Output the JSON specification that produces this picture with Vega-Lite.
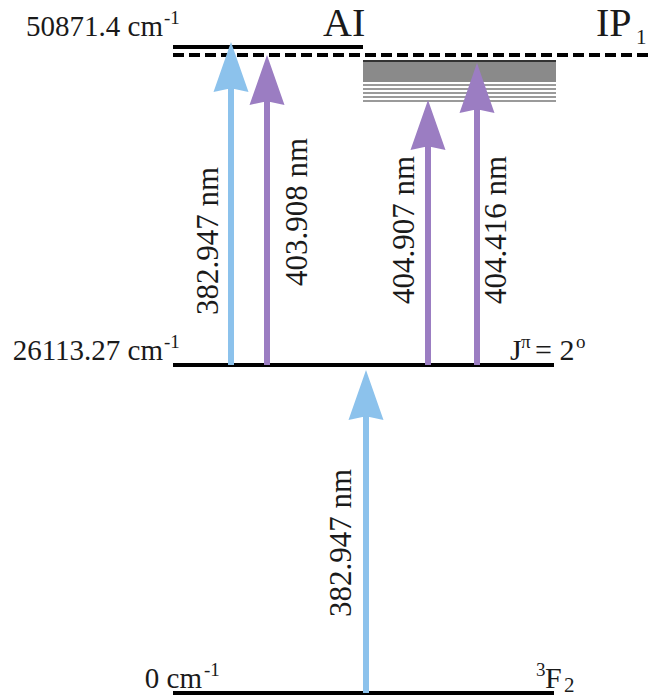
{
  "$schema": "https://vega.github.io/schema/vega-lite/v6.json",
  "width": 654,
  "height": 696,
  "autosize": "none",
  "padding": 0,
  "background": "white",
  "config": {"view": {"stroke": null}, "text": {"font": "Liberation Serif", "color": "#1a1a1a"}},
  "datasets": {
    "levels": [
      {"level": "AI", "x1": 173, "x2": 363, "E": 50871.4},
      {"level": "J=2 odd", "x1": 173, "x2": 554, "E": 26113.27},
      {"level": "3F2", "x1": 173, "x2": 554, "E": 0}
    ],
    "ip": [{"level": "IP1", "x1": 173, "x2": 650, "E": 50248.6}],
    "band": [{"x1": 363, "x2": 556, "E1": 48146.6, "E2": 49859.4}],
    "bandlines": [
      {"E": 47913.0}, {"E": 47601.6}, {"E": 47290.2}, {"E": 46978.8}, {"E": 46667.3}
    ],
    "bandedge": [{"x1": 363, "x2": 556, "E": 49781.5}],
    "arrows": [
      {"label": "382.947 nm", "laser": "blue", "x": 231, "from": 26113.27, "shaftEnd": 47835.1, "tip": 51260.8},
      {"label": "403.908 nm", "laser": "violet", "x": 267, "from": 26113.27, "shaftEnd": 46823.0, "tip": 50248.6},
      {"label": "404.907 nm", "laser": "violet", "x": 428, "from": 26113.27, "shaftEnd": 43319.4, "tip": 46745.1},
      {"label": "404.416 nm", "laser": "violet", "x": 477, "from": 26113.27, "shaftEnd": 46200.1, "tip": 49625.8},
      {"label": "382.947 nm", "laser": "blue", "x": 366, "from": 0, "shaftEnd": 22212.3, "tip": 25715.3}
    ],
    "wavelengths": [
      {"text": "382.947 nm", "x": 209, "E": 35767.4},
      {"text": "403.908 nm", "x": 298, "E": 38025.2},
      {"text": "404.907 nm", "x": 405, "E": 36623.8},
      {"text": "404.416 nm", "x": 497, "E": 36623.8},
      {"text": "382.947 nm", "x": 342, "E": 11942.1}
    ],
    "energies": [
      {"text": "50871.4 cm", "x": 163, "E": 51727.9},
      {"text": "26113.27 cm", "x": 163, "E": 26502.5},
      {"text": "0 cm", "x": 202, "E": 398.1}
    ],
    "terms": [
      {"text": "J", "x": 510, "E": 26502.5},
      {"text": "= 2", "x": 535, "E": 26502.5},
      {"text": "F", "x": 545, "E": 398.1}
    ],
    "big": [
      {"text": "AI", "x": 323, "E": 51727.9},
      {"text": "IP", "x": 596, "E": 51727.9}
    ],
    "sups": [
      {"text": "-1", "x": 164, "E": 52662.2},
      {"text": "-1", "x": 164, "E": 27436.8},
      {"text": "-1", "x": 204, "E": 1353.4},
      {"text": "π", "x": 521, "E": 27436.8},
      {"text": "o", "x": 576, "E": 27436.8},
      {"text": "3", "x": 536, "E": 1353.4}
    ],
    "subs": [
      {"text": "1", "x": 636, "E": 51104.1},
      {"text": "2", "x": 564, "E": 79.6}
    ]
  },
  "layer": [
    {
      "data": {"name": "band"},
      "mark": {"type": "rect", "color": "#8a8a8a"},
      "encoding": {
        "x": {"field": "x1", "type": "quantitative", "scale": {"domain": [0, 654], "range": [0, 654], "nice": false, "zero": false}, "axis": null},
        "x2": {"field": "x2"},
        "y": {"field": "E1", "type": "quantitative", "scale": {"domain": [0, 26113.27, 50871.4], "range": [693, 365, 47], "nice": false, "zero": false}, "axis": null},
        "y2": {"field": "E2"}
      }
    },
    {
      "data": {"name": "bandlines"},
      "mark": {"type": "rule", "color": "#9a9a9a", "strokeWidth": 2},
      "encoding": {
        "x": {"datum": 363, "type": "quantitative"},
        "x2": {"datum": 556},
        "y": {"field": "E", "type": "quantitative"}
      }
    },
    {
      "data": {"name": "bandedge"},
      "mark": {"type": "rule", "color": "#333", "strokeWidth": 2},
      "encoding": {
        "x": {"field": "x1", "type": "quantitative"},
        "x2": {"field": "x2"},
        "y": {"field": "E", "type": "quantitative"}
      }
    },
    {
      "data": {"name": "levels"},
      "mark": {"type": "rule", "color": "black", "strokeWidth": 4},
      "encoding": {
        "x": {"field": "x1", "type": "quantitative"},
        "x2": {"field": "x2"},
        "y": {"field": "E", "type": "quantitative"}
      }
    },
    {
      "data": {"name": "ip"},
      "mark": {"type": "rule", "color": "black", "strokeWidth": 4, "strokeDash": [11, 5]},
      "encoding": {
        "x": {"field": "x1", "type": "quantitative"},
        "x2": {"field": "x2"},
        "y": {"field": "E", "type": "quantitative"}
      }
    },
    {
      "data": {"name": "arrows"},
      "mark": {"type": "rule", "strokeWidth": 6},
      "encoding": {
        "x": {"field": "x", "type": "quantitative"},
        "y": {"field": "from", "type": "quantitative"},
        "y2": {"field": "shaftEnd"},
        "color": {"field": "laser", "type": "nominal", "scale": {"domain": ["blue", "violet"], "range": ["#8cc2ec", "#9b7dc2"]}, "legend": null}
      }
    },
    {
      "data": {"name": "arrows"},
      "mark": {"type": "point", "filled": true, "opacity": 1, "size": 2500, "shape": "M0,0L0.7,2L0,1.85L-0.7,2Z"},
      "encoding": {
        "x": {"field": "x", "type": "quantitative"},
        "y": {"field": "tip", "type": "quantitative"},
        "color": {"field": "laser", "type": "nominal", "legend": null}
      }
    },
    {
      "data": {"name": "wavelengths"},
      "mark": {"type": "text", "font": "Liberation Serif", "angle": 270, "fontSize": 31, "align": "center", "baseline": "middle"},
      "encoding": {
        "x": {"field": "x", "type": "quantitative"},
        "y": {"field": "E", "type": "quantitative"},
        "text": {"field": "text"}
      }
    },
    {
      "data": {"name": "energies"},
      "mark": {"type": "text", "font": "Liberation Serif", "fontSize": 29, "align": "right", "baseline": "alphabetic"},
      "encoding": {
        "x": {"field": "x", "type": "quantitative"},
        "y": {"field": "E", "type": "quantitative"},
        "text": {"field": "text"}
      }
    },
    {
      "data": {"name": "terms"},
      "mark": {"type": "text", "font": "Liberation Serif", "fontSize": 30, "align": "left", "baseline": "alphabetic"},
      "encoding": {
        "x": {"field": "x", "type": "quantitative"},
        "y": {"field": "E", "type": "quantitative"},
        "text": {"field": "text"}
      }
    },
    {
      "data": {"name": "big"},
      "mark": {"type": "text", "font": "Liberation Serif", "fontSize": 40, "align": "left", "baseline": "alphabetic"},
      "encoding": {
        "x": {"field": "x", "type": "quantitative"},
        "y": {"field": "E", "type": "quantitative"},
        "text": {"field": "text"}
      }
    },
    {
      "data": {"name": "sups"},
      "mark": {"type": "text", "font": "Liberation Serif", "fontSize": 19, "align": "left", "baseline": "alphabetic"},
      "encoding": {
        "x": {"field": "x", "type": "quantitative"},
        "y": {"field": "E", "type": "quantitative"},
        "text": {"field": "text"}
      }
    },
    {
      "data": {"name": "subs"},
      "mark": {"type": "text", "font": "Liberation Serif", "fontSize": 21, "align": "left", "baseline": "alphabetic"},
      "encoding": {
        "x": {"field": "x", "type": "quantitative"},
        "y": {"field": "E", "type": "quantitative"},
        "text": {"field": "text"}
      }
    }
  ]
}
